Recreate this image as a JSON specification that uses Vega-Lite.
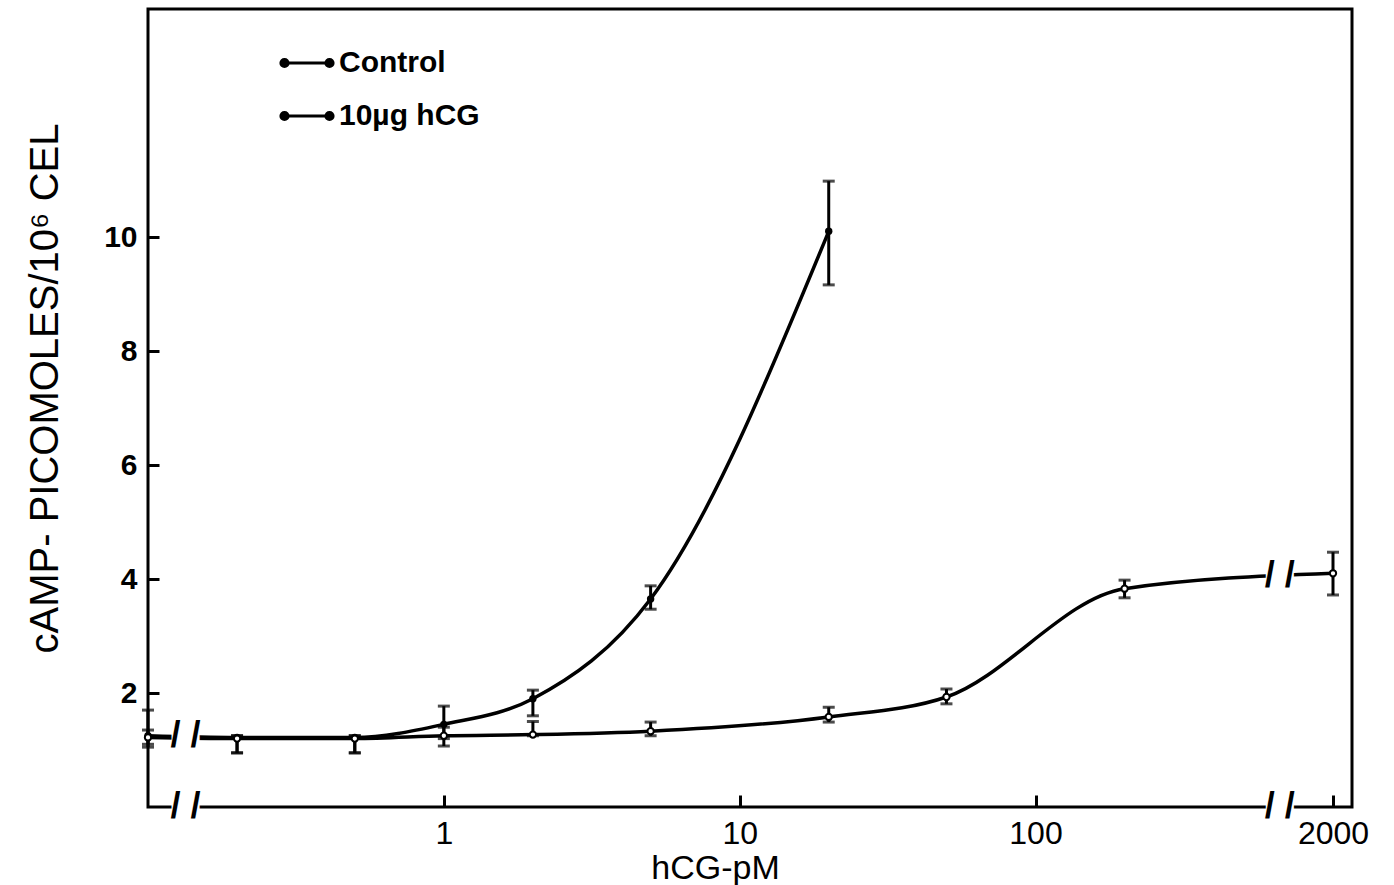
{
  "$schema": "https://vega.github.io/schema/vega-lite/v6.json",
  "autosize": {"type": "none"},
  "width": 1204,
  "height": 798,
  "padding": {"left": 148, "top": 9, "right": 42, "bottom": 78},
  "background": "white",
  "config": {
    "view": {"stroke": "black", "strokeWidth": 3},
    "font": "Liberation Sans"
  },
  "datasets": {
    "pts": [
      {"series": "Control", "dose": 0.1, "camp": 1.25, "lo": 1.05, "hi": 1.7},
      {"series": "Control", "dose": 0.2, "camp": 1.22, "lo": 0.95, "hi": 1.25},
      {"series": "Control", "dose": 0.5, "camp": 1.22, "lo": 0.95, "hi": 1.25},
      {"series": "Control", "dose": 1, "camp": 1.45, "lo": 1.2, "hi": 1.77},
      {"series": "Control", "dose": 2, "camp": 1.9, "lo": 1.6, "hi": 2.05},
      {"series": "Control", "dose": 5, "camp": 3.65, "lo": 3.47, "hi": 3.88},
      {"series": "Control", "dose": 20, "camp": 10.1, "lo": 9.16, "hi": 10.98},
      {"series": "10µg hCG", "dose": 0.1, "camp": 1.22, "lo": 1.1, "hi": 1.35},
      {"series": "10µg hCG", "dose": 0.2, "camp": 1.2, "lo": 0.95, "hi": 1.25},
      {"series": "10µg hCG", "dose": 0.5, "camp": 1.2, "lo": 0.95, "hi": 1.25},
      {"series": "10µg hCG", "dose": 1, "camp": 1.25, "lo": 1.07, "hi": 1.4},
      {"series": "10µg hCG", "dose": 2, "camp": 1.27, "lo": 1.25, "hi": 1.5},
      {"series": "10µg hCG", "dose": 5, "camp": 1.33, "lo": 1.25, "hi": 1.49},
      {"series": "10µg hCG", "dose": 20, "camp": 1.58, "lo": 1.49, "hi": 1.75},
      {"series": "10µg hCG", "dose": 50, "camp": 1.93, "lo": 1.81, "hi": 2.07},
      {"series": "10µg hCG", "dose": 200, "camp": 3.83, "lo": 3.67, "hi": 3.98},
      {"series": "10µg hCG", "dose": 2000, "camp": 4.1, "lo": 3.72, "hi": 4.47}
    ],
    "breaks": [
      {"dose": 0.134, "camp": 0},
      {"dose": 0.134, "camp": 1.24},
      {"dose": 700, "camp": 0},
      {"dose": 700, "camp": 4.05}
    ]
  },
  "encoding": {
    "x": {
      "field": "dose",
      "type": "quantitative",
      "scale": {"type": "log", "domain": [0.1, 650, 2000, 2500], "range": [0, 1128, 1185, 1204], "nice": false},
      "axis": {
        "values": [1, 10, 100, 2000],
        "labelExpr": "'' + datum.value",
        "domain": false,
        "grid": false,
        "tickColor": "black",
        "tickWidth": 3,
        "tickSize": -12,
        "labelPadding": 23,
        "labelFont": "Liberation Sans",
        "labelFontSize": 32,
        "labelColor": "black",
        "title": "hCG-pM",
        "titleFont": "Liberation Sans",
        "titleFontSize": 34,
        "titleFontWeight": "normal",
        "titleColor": "black",
        "titleX": 567,
        "titleY": 61,
        "titleBaseline": "middle",
        "titleAlign": "center"
      }
    },
    "y": {
      "field": "camp",
      "type": "quantitative",
      "scale": {"domain": [0, 14], "nice": false, "zero": true},
      "axis": {
        "values": [2, 4, 6, 8, 10],
        "domain": false,
        "grid": false,
        "tickColor": "black",
        "tickWidth": 3,
        "tickSize": -11,
        "labelPadding": 22,
        "labelFont": "Liberation Sans",
        "labelFontSize": 30,
        "labelFontWeight": "bold",
        "labelColor": "black",
        "title": "cAMP- PICOMOLES/10⁶ CEL",
        "titleFont": "Liberation Sans",
        "titleFontSize": 40,
        "titleFontWeight": "normal",
        "titleColor": "black",
        "titleX": -103,
        "titleY": 379,
        "titleBaseline": "middle",
        "titleAlign": "center",
        "titleAngle": -90
      }
    }
  },
  "layer": [
    {
      "data": {"name": "pts"},
      "mark": {"type": "line", "interpolate": "monotone", "strokeWidth": 3.5},
      "encoding": {
        "color": {
          "field": "series",
          "type": "nominal",
          "scale": {"domain": ["Control", "10µg hCG"], "range": ["black", "black"]},
          "legend": {
            "orient": "none",
            "legendX": 135,
            "legendY": 30,
            "title": null,
            "symbolType": "M-1,0L1,0M-1.16,0a0.16,0.16 0 1,0 0.32,0a0.16,0.16 0 1,0 -0.32,0M0.84,0a0.16,0.16 0 1,0 0.32,0a0.16,0.16 0 1,0 -0.32,0",
            "symbolSize": 2025,
            "symbolStrokeWidth": 3,
            "symbolStrokeColor": "black",
            "symbolFillColor": "black",
            "labelFont": "Liberation Sans",
            "labelFontSize": 30,
            "labelFontWeight": "bold",
            "labelColor": "black",
            "labelOffset": 8,
            "rowPadding": 14,
            "encode": {"symbols": {"update": {"fill": {"value": "black"}, "stroke": {"value": "black"}}}}
          }
        }
      }
    },
    {
      "data": {"name": "pts"},
      "mark": {"type": "rule", "strokeWidth": 3, "color": "black"},
      "encoding": {
        "y": {"field": "lo", "type": "quantitative"},
        "y2": {"field": "hi"}
      }
    },
    {
      "data": {"name": "pts"},
      "mark": {"type": "tick", "orient": "horizontal", "size": 12, "thickness": 3, "color": "black"},
      "encoding": {"y": {"field": "lo", "type": "quantitative"}}
    },
    {
      "data": {"name": "pts"},
      "mark": {"type": "tick", "orient": "horizontal", "size": 12, "thickness": 3, "color": "black"},
      "encoding": {"y": {"field": "hi", "type": "quantitative"}}
    },
    {
      "data": {"name": "pts"},
      "transform": [{"filter": "datum.series === 'Control'"}],
      "mark": {"type": "point", "filled": true, "size": 55, "color": "black", "opacity": 1},
      "encoding": {}
    },
    {
      "data": {"name": "pts"},
      "transform": [{"filter": "datum.series !== 'Control'"}],
      "mark": {"type": "point", "filled": false, "size": 40, "fill": "white", "fillOpacity": 1, "stroke": "black", "strokeWidth": 2, "opacity": 1},
      "encoding": {}
    },
    {
      "data": {"name": "breaks"},
      "mark": {"type": "text", "text": "■", "fontSize": 34, "font": "DejaVu Sans", "fill": "white", "stroke": "white", "strokeWidth": 2, "baseline": "middle", "align": "center"},
      "encoding": {}
    },
    {
      "data": {"name": "breaks"},
      "mark": {"type": "text", "text": "/ /", "fontSize": 36, "fontWeight": "bold", "font": "Liberation Sans", "fill": "black", "baseline": "middle", "align": "center"},
      "encoding": {}
    }
  ]
}
